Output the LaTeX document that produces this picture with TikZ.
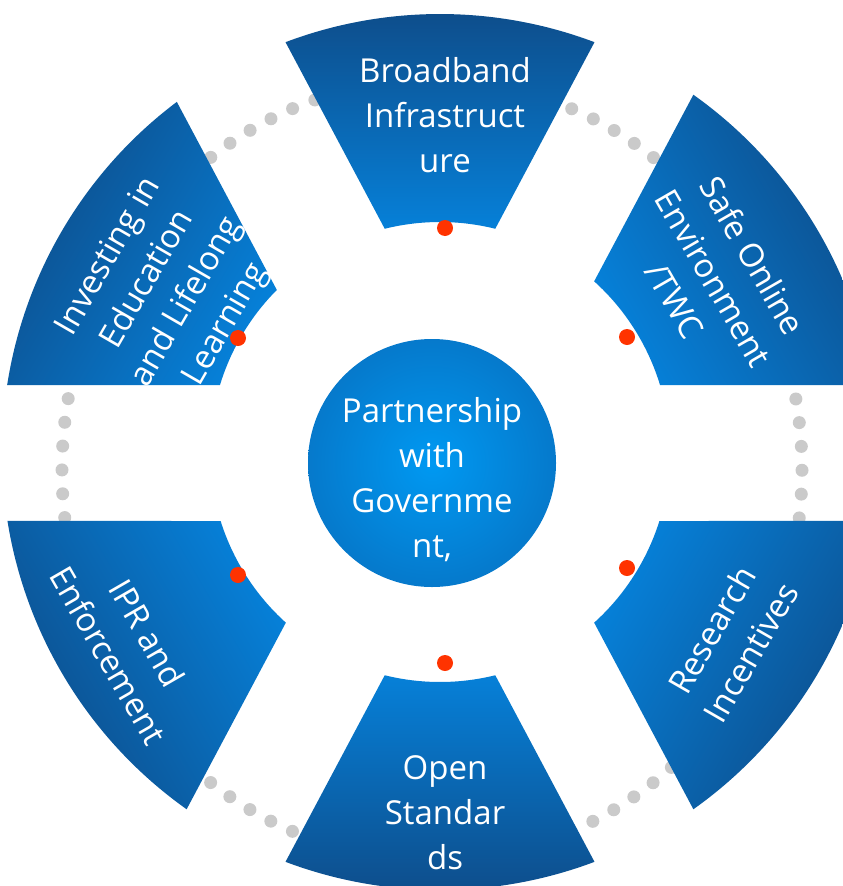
\documentclass[tikz,border=0pt]{standalone}
\usepackage{fontspec}
\setmainfont{Open Sans}
\definecolor{segdark}{HTML}{0E4C89}
\definecolor{seglight}{HTML}{0680D8}
\definecolor{hubin}{HTML}{0099F2}
\definecolor{hubout}{HTML}{0B5CA8}
\definecolor{dotgray}{HTML}{CACACA}
\definecolor{dotred}{HTML}{FF3300}
\pgfdeclareradialshading{hubshade}{\pgfpoint{0bp}{0bp}}{color(0bp)=(hubin); color(48bp)=(hubout); color(50bp)=(hubout)}
\begin{document}
\begin{tikzpicture}[x=1pt,y=1pt,
	lbl/.style={text=white,align=center,inner sep=0,font=\fontsize{33}{45}\selectfont},
	reddot/.style={circle,fill=dotred,minimum size=16pt,inner sep=0}]
	\useasboundingbox (0,0) rectangle (843,-886);
	\clip (0,0) rectangle (843,-886);
	\coordinate (o) at (440,-452);
	% dotted ring behind the segments
	\draw[dotgray,line width=13pt,line cap=round,dash pattern=on 0pt off 23.88pt]
	(432,-80) arc[start angle=90,end angle=450,x radius=370pt,y radius=390pt];
	% segments: centre angle / gap angle, half gap / gap angle, half gap
	\begin{scope}[shift={(o)}]
	\foreach \p/\a/\d/\b/\e [evaluate=\p as \sa using \p-90] in
	{90/62/56/118/56,150/118/68/180/67,210/180/69/242/56,
		270/242/56/298/56,330/298/56/360/69,30/0/67/62/56}
	\path[top color=segdark,bottom color=seglight,shading angle=\sa]
	({\a+asin(\d/438)}:438) arc[start angle={\a+asin(\d/438)},end angle={\b-asin(\e/438)},radius=438pt]
	-- ({\b-asin(\e/230)}:230) arc[start angle={\b-asin(\e/230)},end angle={\a+asin(\d/230)},radius=230pt] -- cycle;
	\end{scope}
	\shade[shading=hubshade] (432,-463) circle[radius=124pt];
	\node[lbl] (c) at (432,-480) {Partnership\\with\\Governme\\nt,};
	\node[lbl] (t1) at (445,-115) {Broadband\\Infrastruct\\ure};
	\node[lbl,rotate=-60] (t2) at (714,-278) {Safe Online\\Environment\\/TWC};
	\node[lbl,rotate=60] (t3) at (731,-641) {Research\\Incentives};
	\node[lbl] (t4) at (445,-813) {Open\\Standar\\ds};
	\node[lbl,rotate=-60] (t5) at (128,-644) {IPR and\\Enforcement};
	\node[lbl,rotate=60] (t6) at (168,-291) {Investing in\\Education\\and Lifelong\\Learning};
	\path (445,-228)node[reddot](r1){}
	(627,-337)node[reddot](r2){}
	(627,-568)node[reddot](r3){}
	(445,-663)node[reddot](r4){}
	(238,-575)node[reddot](r5){}
	(238,-338)node[reddot](r6){};
\end{tikzpicture}
\end{document}
